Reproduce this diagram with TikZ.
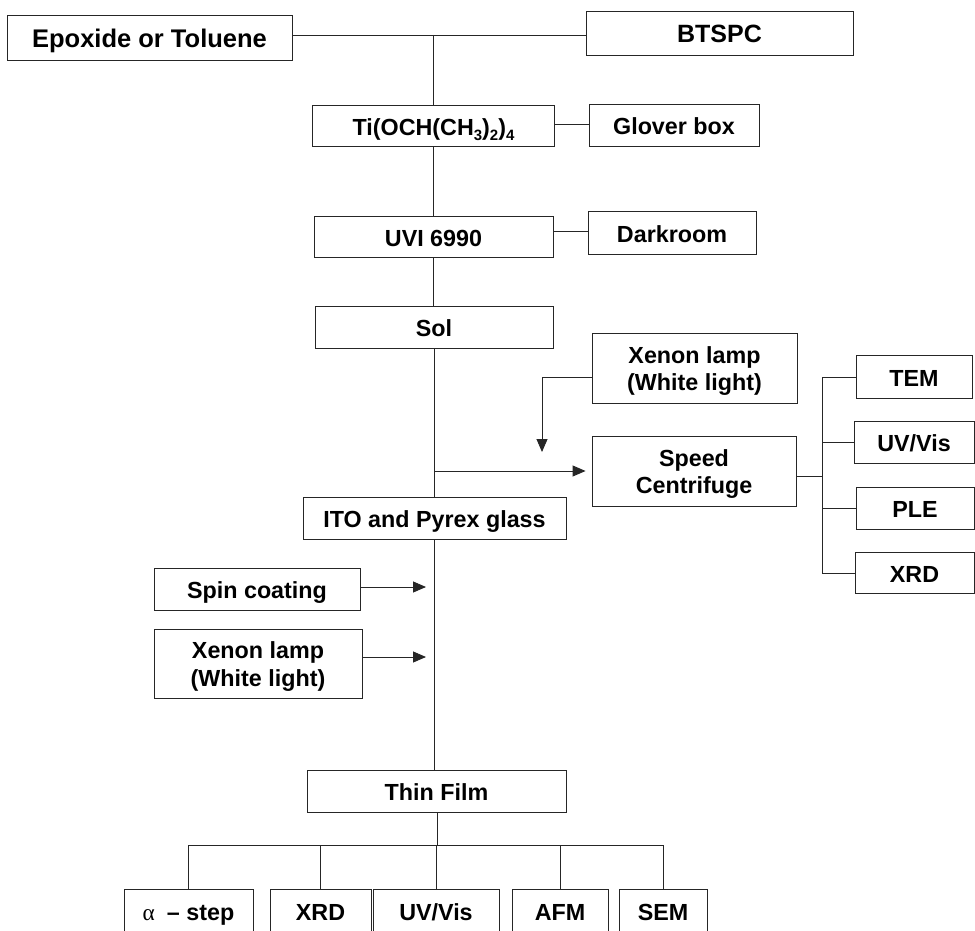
\documentclass[tikz,border=0pt]{standalone}
\usepackage{fontspec}
\setmainfont{Liberation Sans}
\newfontfamily\grkserif{Liberation Serif}
\usetikzlibrary{arrows.meta}
\newcommand{\sbs}[1]{\raisebox{-0.35ex}{\fontsize{15}{15}\selectfont #1}}
\newcommand{\topstrut}{\rule{0pt}{23pt}}
\begin{document}
\begin{tikzpicture}[x=1pt,y=-1pt,
  box/.style={draw=black!85, line width=0.9pt, inner sep=0pt,
    font=\fontsize{23.3}{27.7}\selectfont\bfseries, text height=21pt, text depth=1.3pt},
  box2/.style={draw=black!85, line width=0.9pt, inner sep=0pt,
    font=\fontsize{23.3}{27.7}\selectfont\bfseries, align=center},
  conn/.style={draw=black!85, line width=0.9pt},
  arr/.style={conn, -{Triangle[length=13pt,width=11pt]}}]
\useasboundingbox (0,0) rectangle (975,931);
\fill[white] (0,0) rectangle (975,931);
\clip (0,0) rectangle (975,931);

% main column
\node[box, minimum width=285pt, minimum height=45pt, font=\fontsize{25.5}{29}\selectfont\bfseries] (epox) at (149.5,37.5) {Epoxide or Toluene};
\node[box, minimum width=267pt, minimum height=44pt, font=\fontsize{25}{29}\selectfont\bfseries] (btspc) at (719.5,33) {BTSPC};
\node[box, minimum width=242pt, minimum height=41pt] (ti) at (433.5,126) {Ti(OCH(CH\sbs{3})\sbs{2})\sbs{4}};
\node[box, minimum width=170pt, minimum height=42pt] (glove) at (674,125) {Glover box};
\node[box, minimum width=239pt, minimum height=41pt] (uvi) at (433.5,236.5) {UVI 6990};
\node[box, minimum width=168pt, minimum height=43pt] (dark) at (672,232.5) {Darkroom};
\node[box, minimum width=238pt, minimum height=42pt] (sol) at (434,327) {Sol};
\node[box2, minimum width=205pt, minimum height=70pt] (xen1) at (694.5,368) {\topstrut Xenon lamp\\(White light)};
\node[box2, minimum width=204pt, minimum height=70pt] (cent) at (694,471) {\topstrut Speed\\Centrifuge};
\node[box, minimum width=263pt, minimum height=42pt] (ito) at (434.5,518) {ITO and Pyrex glass};

% right column
\node[box, minimum width=116pt, minimum height=43pt] (tem) at (914,376.5) {TEM};
\node[box, minimum width=120pt, minimum height=42pt] (uvr) at (914,442) {UV/Vis};
\node[box, minimum width=118pt, minimum height=42pt] (ple) at (915,508) {PLE};
\node[box, minimum width=119pt, minimum height=41pt] (xrdr) at (914.5,572.5) {XRD};

% left inputs
\node[box, minimum width=206pt, minimum height=42pt] (spin) at (257,589) {Spin coating};
\node[box2, minimum width=208pt, minimum height=69pt] (xen2) at (258,663.5) {\topstrut Xenon lamp\\(White light)};

\node[box, minimum width=259pt, minimum height=42pt] (tf) at (436.5,791) {Thin Film};

% bottom row
\node[box, minimum width=129pt, minimum height=44pt] (alpha) at (188.5,911) {{\grkserif\mdseries α}\hspace{12pt}– step};
\node[box, minimum width=101pt, minimum height=44pt] (xrdb) at (320.5,911) {XRD};
\node[box, minimum width=126pt, minimum height=44pt] (uvb) at (436,911) {UV/Vis};
\node[box, minimum width=96pt, minimum height=44pt] (afm) at (560,911) {AFM};
\node[box, minimum width=88pt, minimum height=44pt] (sem) at (663,911) {SEM};

% coordinates
\coordinate (j1) at (433.5,35);
\coordinate (xl) at (542,377);
\coordinate (xt) at (542,452);
\coordinate (h1) at (435,471);
\coordinate (rb) at (822,476);
\coordinate (rt) at (822,377);
\coordinate (rbot) at (822,573);
\coordinate (sa) at (426,587);
\coordinate (xa) at (426,657);
\coordinate (bb) at (437,845);

% connectors
\draw[conn] (epox.east |- j1) -- (btspc.west |- j1);
\draw[conn] (j1) -- (ti.north);
\draw[conn] (ti.east |- 0,124) -- (glove.west |- 0,124);
\draw[conn] (ti.south) -- (ti.south |- uvi.north);
\draw[conn] (uvi.east |- 0,231) -- (dark.west |- 0,231);
\draw[conn] (uvi.south) -- (uvi.south |- sol.north);
\draw[conn] (sol.south) -- (sol.south |- ito.north);
\draw[arr] (xen1.west |- xl) -- (xl) -- (xt);
\draw[arr, shorten >=6pt] (h1) -- (cent.west |- h1);
\draw[conn] (cent.east |- rb) -- (rb);
\draw[conn] (rt) -- (rbot);
\draw[conn] (rt) -- (tem.west |- rt);
\draw[conn] (rt |- uvr.west) -- (uvr.west);
\draw[conn] (rt |- ple.west) -- (ple.west);
\draw[conn] (rbot) -- (xrdr.west |- rbot);
\draw[conn] (ito.south) -- (ito.south |- tf.north);
\draw[arr] (spin.east |- sa) -- (sa);
\draw[arr] (xen2.east |- xa) -- (xa);
\draw[conn] (tf.south -| bb) -- (bb);
\draw[conn] (alpha.north |- bb) -- (sem.north |- bb);
\draw[conn] (alpha.north |- bb) -- (alpha.north);
\draw[conn] (xrdb.north |- bb) -- (xrdb.north);
\draw[conn] (uvb.north |- bb) -- (uvb.north);
\draw[conn] (afm.north |- bb) -- (afm.north);
\draw[conn] (sem.north |- bb) -- (sem.north);
\end{tikzpicture}
\end{document}
